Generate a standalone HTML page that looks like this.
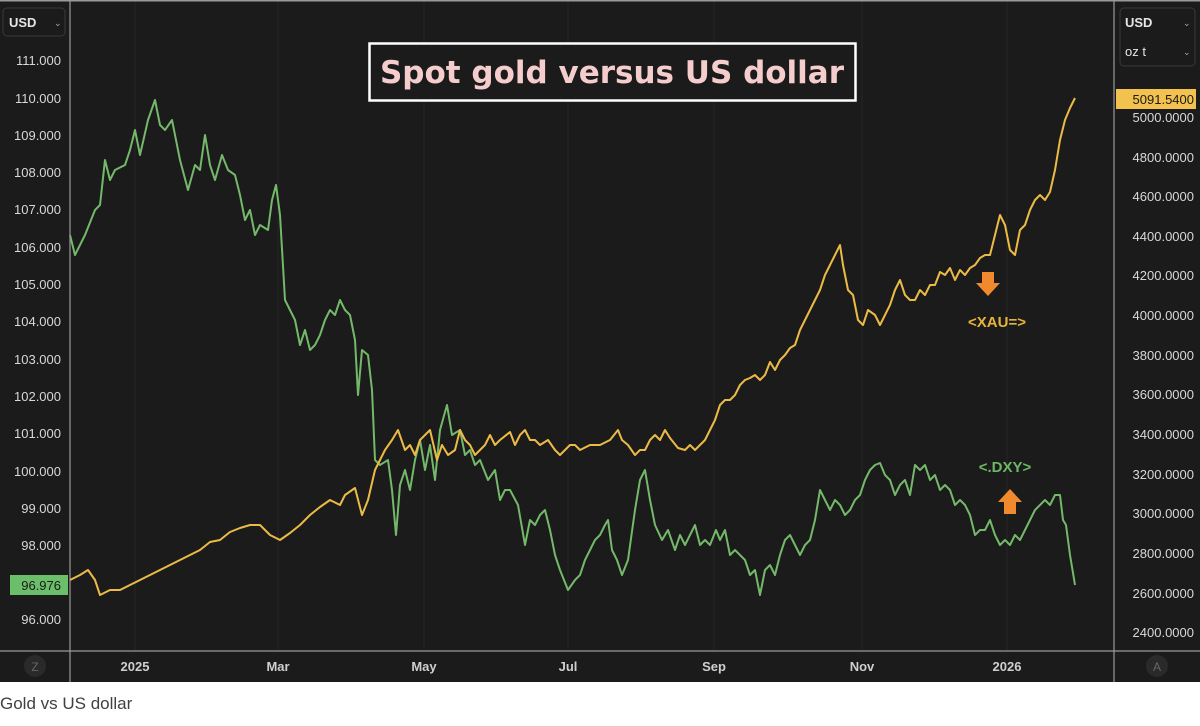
<!DOCTYPE html>
<html><head><meta charset="utf-8"><style>
html,body{margin:0;padding:0;background:#fff;width:1200px;height:726px;overflow:hidden}
svg{display:block}
</style></head><body>
<svg width="1200" height="726" xmlns="http://www.w3.org/2000/svg" font-family="Liberation Sans, DejaVu Sans, sans-serif">
<rect x="0" y="0" width="1200" height="682" fill="#1b1b1b"/>
<g stroke="#262626" stroke-width="1">
<line x1="135" y1="0" x2="135" y2="650"/><line x1="278" y1="0" x2="278" y2="650"/><line x1="424" y1="0" x2="424" y2="650"/><line x1="568" y1="0" x2="568" y2="650"/><line x1="714" y1="0" x2="714" y2="650"/><line x1="862" y1="0" x2="862" y2="650"/><line x1="1007" y1="0" x2="1007" y2="650"/>
</g>
<g stroke="#9a9a9a" stroke-width="1.2">
<line x1="70" y1="0" x2="70" y2="682"/><line x1="1114" y1="0" x2="1114" y2="682"/><line x1="0" y1="651" x2="1200" y2="651"/>
</g>
<rect x="0" y="0" width="1200" height="1.5" fill="#9a9a9a"/>
<!-- left selector -->
<rect x="3" y="8" width="62" height="28" rx="4" fill="none" stroke="#3a3a3a"/>
<text x="9" y="27" fill="#e6e6e6" font-size="13" font-weight="bold">USD</text><text x="54" y="26" fill="#aaa" font-size="9">⌄</text>
<rect x="1120" y="8" width="75" height="58" rx="4" fill="none" stroke="#3a3a3a"/>
<text x="1125" y="27" fill="#e6e6e6" font-size="13" font-weight="bold">USD</text><text x="1183" y="26" fill="#aaa" font-size="9">⌄</text>
<text x="1125" y="56" fill="#e6e6e6" font-size="13">oz t</text><text x="1183" y="55" fill="#aaa" font-size="9">⌄</text>
<g fill="#d8d8d8" font-size="13" text-anchor="end">
<text x="61" y="65">111.000</text><text x="61" y="103">110.000</text><text x="61" y="140">109.000</text><text x="61" y="177">108.000</text><text x="61" y="214">107.000</text><text x="61" y="252">106.000</text><text x="61" y="289">105.000</text><text x="61" y="326">104.000</text><text x="61" y="364">103.000</text><text x="61" y="401">102.000</text><text x="61" y="438">101.000</text><text x="61" y="476">100.000</text><text x="61" y="513">99.000</text><text x="61" y="550">98.000</text><text x="61" y="624">96.000</text>
</g>
<rect x="10" y="575" width="58" height="20" fill="#6cbf6a"/><text x="61" y="590" fill="#1a1a1a" font-size="13" text-anchor="end">96.976</text>
<g fill="#d8d8d8" font-size="13" text-anchor="end">
<text x="1194" y="122">5000.0000</text><text x="1194" y="162">4800.0000</text><text x="1194" y="201">4600.0000</text><text x="1194" y="241">4400.0000</text><text x="1194" y="280">4200.0000</text><text x="1194" y="320">4000.0000</text><text x="1194" y="360">3800.0000</text><text x="1194" y="399">3600.0000</text><text x="1194" y="439">3400.0000</text><text x="1194" y="479">3200.0000</text><text x="1194" y="518">3000.0000</text><text x="1194" y="558">2800.0000</text><text x="1194" y="598">2600.0000</text><text x="1194" y="637">2400.0000</text>
</g>
<rect x="1116" y="89" width="80" height="20" fill="#f2c14e"/><text x="1194" y="104" fill="#1a1a1a" font-size="13" text-anchor="end">5091.5400</text>
<g fill="#cfcfcf" font-size="13" font-weight="bold" text-anchor="middle">
<text x="135" y="671">2025</text><text x="278" y="671">Mar</text><text x="424" y="671">May</text><text x="568" y="671">Jul</text><text x="714" y="671">Sep</text><text x="862" y="671">Nov</text><text x="1007" y="671">2026</text>
</g>
<circle cx="35" cy="666" r="11" fill="#2a2a2a"/><text x="35" y="671" fill="#666" font-size="12" text-anchor="middle">Z</text>
<circle cx="1157" cy="666" r="11" fill="#2a2a2a"/><text x="1157" y="671" fill="#666" font-size="12" text-anchor="middle">A</text>
<!-- title -->
<rect x="369.5" y="43.5" width="486" height="57" fill="#1b1b1b" stroke="#fff" stroke-width="2.5"/>
<text x="612" y="83" fill="#f6cdcd" font-size="31" font-weight="bold" text-anchor="middle" font-family="DejaVu Sans, sans-serif">Spot gold versus US dollar</text>
<!-- DXY -->
<polyline fill="none" stroke="#74b86a" stroke-width="2" stroke-linejoin="round" points="70,235 75,255 85,235 95,210 100,205 105,160 110,180 115,170 125,165 130,150 135,130 140,155 148,120 155,100 160,125 165,130 172,120 180,160 188,190 195,165 200,170 205,135 210,165 215,180 222,155 228,170 235,175 240,195 245,220 250,210 255,235 260,225 268,230 272,200 276,185 280,215 285,300 290,310 295,320 300,345 305,330 310,350 315,345 320,335 325,320 330,310 335,315 340,300 345,310 350,315 355,340 358,395 362,350 368,355 372,390 375,460 380,465 388,460 392,490 396,535 400,485 405,470 410,490 415,460 420,440 425,470 430,445 435,480 440,430 447,405 452,435 460,430 465,455 470,450 475,465 480,460 488,480 495,470 500,500 505,490 510,490 518,505 525,545 530,520 535,525 540,515 545,510 550,530 555,555 560,570 568,590 575,580 580,575 585,560 590,550 595,540 600,535 605,525 608,520 612,550 617,560 622,575 628,560 635,510 640,480 645,470 650,500 655,525 662,540 668,530 675,550 680,535 685,545 690,535 695,525 700,545 705,540 710,545 716,530 720,540 725,530 730,555 735,550 740,555 745,560 750,575 755,570 760,595 765,570 770,565 775,575 780,555 785,540 790,535 795,545 800,555 805,545 810,540 815,520 820,490 825,500 830,510 835,500 840,505 845,515 850,510 855,500 860,495 865,480 870,470 875,465 880,463 885,475 890,480 895,495 900,485 905,480 910,495 915,465 920,470 925,465 930,480 935,475 940,490 945,485 950,490 955,505 960,500 965,505 970,515 975,535 980,530 985,530 990,520 995,535 1000,545 1005,540 1010,545 1015,535 1020,540 1025,530 1030,520 1035,510 1040,505 1045,500 1050,505 1055,495 1060,495 1063,520 1066,525 1070,555 1075,585"/>
<!-- Gold -->
<polyline fill="none" stroke="#ecbb45" stroke-width="2" stroke-linejoin="round" points="70,580 80,575 88,570 95,580 100,595 110,590 120,590 130,585 140,580 150,575 160,570 170,565 180,560 190,555 200,550 210,542 220,540 230,532 240,528 250,525 260,525 270,535 280,540 290,533 300,525 310,515 320,507 330,500 340,505 345,495 355,488 362,515 368,500 375,470 380,460 385,450 392,440 398,430 405,450 410,445 415,455 420,440 425,435 430,430 437,460 442,445 448,455 455,450 460,430 465,440 470,445 475,455 480,450 485,445 490,435 495,445 500,440 510,432 515,445 520,435 525,430 530,440 535,440 540,445 548,440 555,450 560,455 565,450 570,445 575,445 580,450 590,445 600,445 610,440 618,430 622,440 628,445 635,455 640,450 645,450 650,440 655,435 660,440 665,430 670,438 678,448 685,450 690,445 695,450 700,445 705,440 710,430 715,420 720,405 725,400 730,400 735,395 740,385 745,380 750,378 755,375 760,380 765,375 770,362 775,370 780,360 785,355 790,348 795,345 800,330 805,320 810,310 815,300 820,290 825,275 830,265 835,255 840,245 843,265 848,290 853,295 858,320 863,325 868,310 875,315 880,325 885,315 890,305 895,290 900,280 905,295 910,300 915,300 920,290 925,295 930,285 935,285 940,272 945,275 950,268 955,280 960,270 965,275 970,268 975,265 980,258 985,255 990,255 995,235 1000,215 1005,225 1010,250 1015,255 1020,230 1025,225 1030,210 1035,200 1040,195 1045,200 1050,192 1055,170 1060,140 1065,120 1070,108 1075,98"/>
<!-- annotations -->
<polygon points="982,272 994,272 994,283 1000,283 988,296 976,283 982,283" fill="#f08a2c"/>
<text x="997" y="327" fill="#e9b43c" font-size="15" font-weight="bold" text-anchor="middle">&lt;XAU=&gt;</text>
<text x="1005" y="472" fill="#6cb865" font-size="15" font-weight="bold" text-anchor="middle">&lt;.DXY&gt;</text>
<polygon points="1010,489 1022,502 1016,502 1016,514 1004,514 1004,502 998,502" fill="#f08a2c"/>
<text x="0" y="709" fill="#404040" font-size="17">Gold vs US dollar</text>
</svg>
</body></html>
